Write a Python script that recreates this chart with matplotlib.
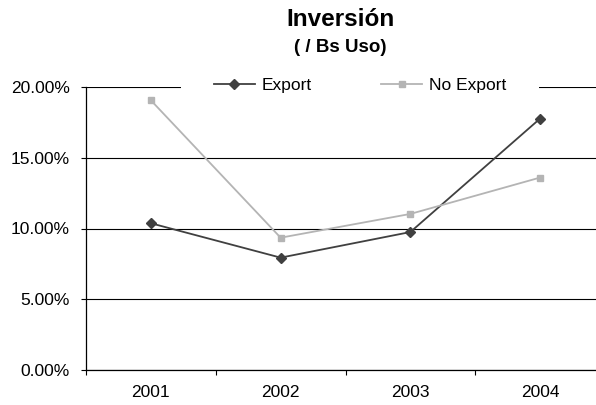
import matplotlib
matplotlib.use("Agg")
import matplotlib.pyplot as plt
from matplotlib.ticker import FuncFormatter

plt.rcParams['font.family'] = ['Liberation Sans', 'DejaVu Sans']

years = ["2001", "2002", "2003", "2004"]
export_vals = [10.37, 7.94, 9.75, 17.77]
no_export_vals = [19.06, 9.35, 11.03, 13.60]
title = "Inversión"
subtitle = "( / Bs Uso)"

W, H = 596, 405
fig = plt.figure(figsize=(W / 100, H / 100), dpi=100)
left, right, top, bottom = 86, 605, 87, 370
ax = fig.add_axes([left / W, 1 - bottom / H, (right - left) / W, (bottom - top) / H])

x = list(range(len(years)))
ax.plot(x, export_vals, color='#404040', lw=1.3, marker='D', ms=5,
        label='Export', zorder=3, clip_on=False)
ax.plot(x, no_export_vals, color='#b4b4b4', lw=1.3, marker='s', ms=4.6,
        label='No Export', zorder=3, clip_on=False)

ax.set_xlim(-0.5, len(years) - 0.5)
ax.set_ylim(0, 20)
ax.set_yticks([0, 5, 10, 15, 20])
ax.yaxis.set_major_formatter(FuncFormatter(lambda v, p: f"{v:.2f}%"))
ax.set_xticks(x)
ax.set_xticklabels(years)
ax.set_xticks([i + 0.5 for i in range(-1, len(years))], minor=True)
ax.tick_params(axis='x', which='major', length=0, pad=10.5, labelsize=12.5)
ax.tick_params(axis='x', which='minor', length=3.6, width=0.8, direction='out')
ax.tick_params(axis='y', length=3.6, width=0.8, direction='out', pad=8, labelsize=12.5)

ax.grid(axis='y', color='black', lw=0.8, zorder=1)
ax.set_axisbelow(True)
for s in ['top', 'right']:
    ax.spines[s].set_visible(False)
for s in ['left', 'bottom']:
    ax.spines[s].set_linewidth(0.9)
    ax.spines[s].set_zorder(2)

leg = ax.legend(loc='center', bbox_to_anchor=((360 - left) / (right - left), 1.0 + 2 / (bottom - top)),
                ncol=2, frameon=True, fancybox=False, edgecolor='none',
                facecolor='white', framealpha=1, fontsize=12.5,
                handlelength=2.35, handletextpad=0.4, columnspacing=4.0,
                borderpad=1.9, borderaxespad=0)
leg.set_zorder(2.5)

fig.text(340.5 / W, 1 - 20 / H, title, ha='center', va='center',
         fontsize=17.5, fontweight='bold')
fig.text(340.5 / W, 1 - 47 / H, subtitle, ha='center', va='center',
         fontsize=13.5, fontweight='bold')

fig.savefig('out.png', dpi=100)
